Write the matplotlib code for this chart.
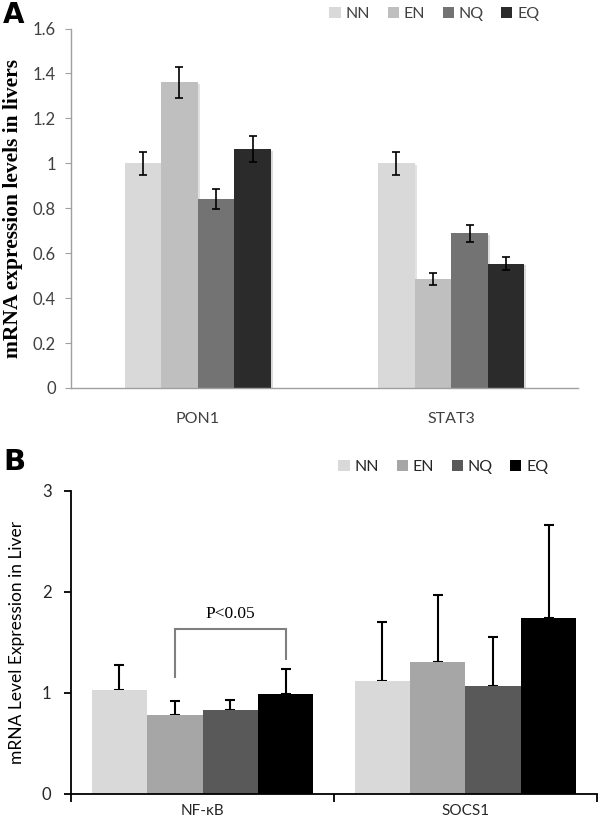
import matplotlib
matplotlib.use("Agg")
import matplotlib.pyplot as plt
import matplotlib.patheffects as pe
from matplotlib.patches import Patch
import numpy as np

# data
groups = ["NN", "EN", "NQ", "EQ"]

genes_a = ["PON1", "STAT3"]
means_a = {"NN": [1.00, 1.00], "EN": [1.36, 0.485], "NQ": [0.84, 0.688], "EQ": [1.063, 0.553]}
errs_a = {"NN": [0.05, 0.05], "EN": [0.07, 0.025], "NQ": [0.044, 0.037], "EQ": [0.057, 0.029]}
colors_a = ["#d9d9d9", "#bfbfbf", "#737373", "#2b2b2b"]

genes_b = ["NF-κB", "SOCS1"]
means_b = {"NN": [1.026, 1.115], "EN": [0.78, 1.31], "NQ": [0.833, 1.066], "EQ": [0.987, 1.745]}
errs_b = {"NN": [0.253, 0.585], "EN": [0.141, 0.655], "NQ": [0.101, 0.491], "EQ": [0.253, 0.92]}
colors_b = ["#d9d9d9", "#a6a6a6", "#595959", "#000000"]

sig_label = "P<0.05"

sans = "Lato"
serif = "Liberation Serif"

fig = plt.figure(figsize=(6, 8.24), dpi=100)

# ---------------- panel A ----------------
axA = fig.add_axes([71 / 600, 1 - 388 / 824, (578 - 71) / 600, (388 - 28.5) / 824])
w = 0.144
x = np.arange(len(genes_a))
for i, g in enumerate(groups):
    axA.bar(x + (i - 1.5) * w, means_a[g], w, color=colors_a[i], zorder=2,
            path_effects=[pe.SimplePatchShadow(offset=(1.5, -1), alpha=0.15), pe.Normal()])
    axA.errorbar(x + (i - 1.5) * w, means_a[g], yerr=errs_a[g], fmt="none",
                 ecolor="black", elinewidth=1.2, capsize=3.2, capthick=1.2, zorder=3)
axA.set_xlim(-0.5, 1.5)
axA.set_ylim(0, 1.6)
axA.set_yticks(np.arange(0, 1.61, 0.2))
axA.set_yticklabels(["0", "0.2", "0.4", "0.6", "0.8", "1", "1.2", "1.4", "1.6"])
axA.set_xticks(x)
axA.set_xticklabels(genes_a)
for s in ["top", "right"]:
    axA.spines[s].set_visible(False)
for s in ["left", "bottom"]:
    axA.spines[s].set_color("#a0a0a0")
    axA.spines[s].set_linewidth(1.0)
axA.tick_params(axis="y", length=4, color="#a0a0a0", labelsize=12, labelcolor="#404040", pad=7)
axA.tick_params(axis="x", length=0, labelsize=11.5, labelcolor="#404040", pad=17)
for lab in axA.get_xticklabels() + axA.get_yticklabels():
    lab.set_fontfamily(sans)
axA.set_ylabel("mRNA expression levels in livers", fontfamily=serif, fontweight="bold",
               fontsize=15.5, labelpad=7)
handles_a = [Patch(facecolor=c, edgecolor="none") for c in colors_a]
fig.legend(handles_a, groups, loc="center", bbox_to_anchor=(0.724, 1 - 14 / 824), ncol=4,
           frameon=False, handlelength=0.7, handleheight=0.7, handletextpad=0.3,
           columnspacing=1.1, prop={"family": sans, "size": 11.5}, labelcolor="#404040")
fig.text(3 / 600, 1 - 15 / 824, "A", fontfamily="DejaVu Sans", fontweight="bold",
         fontsize=20, va="center", ha="left")

# ---------------- panel B ----------------
axB = fig.add_axes([71 / 600, 1 - 794 / 824, (597 - 71) / 600, (794 - 490.7) / 824])
w = 0.211
x = np.arange(len(genes_b))
for i, g in enumerate(groups):
    axB.bar(x + (i - 1.5) * w, means_b[g], w, color=colors_b[i], zorder=2)
    axB.errorbar(x + (i - 1.5) * w, means_b[g], yerr=[np.zeros(2), errs_b[g]], fmt="none",
                 ecolor="black", elinewidth=1.5, capsize=3.5, capthick=1.5, zorder=1)
axB.set_xlim(-0.5, 1.5)
axB.set_ylim(0, 3)
axB.set_yticks([0, 1, 2, 3])
axB.set_xticks([-0.5, 0.5, 1.5])
axB.set_xticklabels([])
axB.set_xticks(x, minor=True)
axB.set_xticklabels(genes_b, minor=True)
for s in ["top", "right"]:
    axB.spines[s].set_visible(False)
for s in ["left", "bottom"]:
    axB.spines[s].set_linewidth(1.3)
axB.tick_params(axis="y", length=5, width=1.3, labelsize=12, labelcolor="#262626", pad=9)
axB.tick_params(axis="x", which="major", length=6, width=1.3, direction="out")
axB.tick_params(axis="x", which="minor", length=0, labelsize=11, labelcolor="#262626", pad=7)
for lab in axB.get_xticklabels(minor=True) + axB.get_yticklabels():
    lab.set_fontfamily(sans)
axB.set_ylabel("mRNA Level Expression in Liver", fontfamily=sans, fontsize=12.5, labelpad=12)

# significance bracket between EN and EQ of NF-kB
x_en = 0 + (1 - 1.5) * w
x_eq = 0 + (3 - 1.5) * w
axB.plot([x_en, x_en, x_eq, x_eq], [1.155, 1.63, 1.63, 1.34], color="#7f7f7f", lw=1.5,
         solid_joinstyle="miter", zorder=4)
axB.text((x_en + x_eq) / 2, 1.7, sig_label, fontfamily=serif, fontsize=12.5,
         ha="center", va="bottom")

handles_b = [Patch(facecolor=c, edgecolor="none") for c in colors_b]
fig.legend(handles_b, groups, loc="center", bbox_to_anchor=(0.739, 1 - 467 / 824), ncol=4,
           frameon=False, handlelength=0.7, handleheight=0.7, handletextpad=0.3,
           columnspacing=1.1, prop={"family": sans, "size": 11.5}, labelcolor="#262626")
fig.text(3 / 600, 1 - 462 / 824, "B", fontfamily="DejaVu Sans", fontweight="bold",
         fontsize=21, va="center", ha="left")

fig.savefig("out.png", dpi=100)
